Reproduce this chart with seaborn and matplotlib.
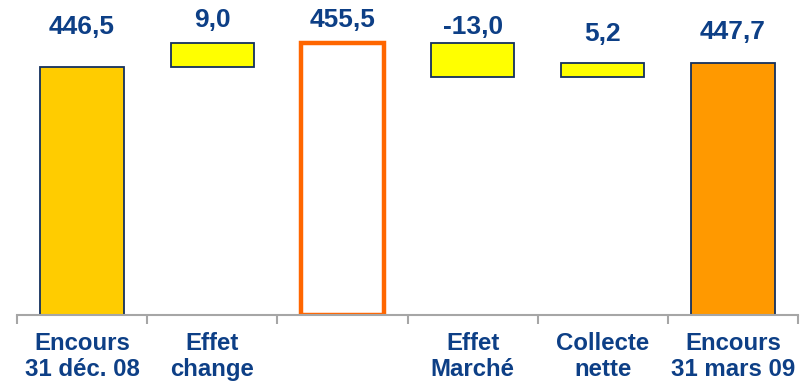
import matplotlib
matplotlib.use("Agg")
import matplotlib.pyplot as plt
import seaborn as sns
import numpy as np
import pandas as pd

# ---- data ----
categories = ["Encours\n31 déc. 08", "Effet\nchange", " ", "Effet\nMarché", "Collecte\nnette", "Encours\n31 mars 09"]
values = [446.5, 9.0, 455.5, -13.0, 5.2, 447.7]
kinds = ["total", "delta", "total", "delta", "delta", "total"]
value_labels = ["446,5", "9,0", "455,5", "-13,0", "5,2", "447,7"]

# ---- style ----
y_floor = 353.4
y_top = 471.5
face_colors = ["#FFCC00", "#FFFF00", "#FFFFFF", "#FFFF00", "#FFFF00", "#FF9900"]
edge_colors = ["#14305E", "#14305E", "#FF6600", "#14305E", "#14305E", "#14305E"]
edge_widths = [1.3, 1.3, 3.2, 1.3, 1.3, 1.3]
label_offsets_px = [40, 23, 23, 16, 29, 31]
text_color = "#0D3F86"

sns.set_theme(style="white")
plt.rcParams["font.family"] = ["Liberation Sans", "DejaVu Sans"]

# waterfall geometry from data
bottoms, heights, tops = [], [], []
running = 0.0
for v, k in zip(values, kinds):
    if k == "total":
        bottoms.append(y_floor)
        heights.append(v - y_floor)
        running = v
        tops.append(v)
    else:
        bottoms.append(running)
        heights.append(v)
        tops.append(max(running, running + v))
        running = running + v

df = pd.DataFrame({"cat": categories, "h": heights})

fig = plt.figure(figsize=(8.01, 3.84), dpi=100)
ax = fig.add_axes([17 / 801, 1 - 315 / 384, (798 - 17) / 801, 315 / 384])

sns.barplot(data=df, x="cat", y="h", order=categories, bottom=bottoms,
            width=0.64, ax=ax, errorbar=None, color="#FFCC00", saturation=1)

for p, fc, ec, lw in zip(ax.patches, face_colors, edge_colors, edge_widths):
    p.set_facecolor(fc)
    p.set_edgecolor(ec)
    p.set_linewidth(lw)
    if lw > 2:
        p.set_joinstyle("miter")

ax.set_xlim(-0.5, len(categories) - 0.5)
ax.set_ylim(y_floor, y_top)

for i, (t, lab, off) in enumerate(zip(tops, value_labels, label_offsets_px)):
    ax.annotate(lab, (i, t), xytext=(0, off * 0.72), textcoords="offset points",
                ha="center", va="center", fontsize=19, fontweight="bold",
                color=text_color, annotation_clip=False)

for s in ["top", "left", "right"]:
    ax.spines[s].set_visible(False)
ax.spines["bottom"].set_color("#A6A6A6")
ax.spines["bottom"].set_linewidth(1.5)
ax.set_yticks([])
ax.set_xlabel("")
ax.set_ylabel("")
ax.set_xticks(range(len(categories)))
ax.set_xticklabels(categories, fontsize=17.3, fontweight="bold", color=text_color, linespacing=1.2)
ax.tick_params(axis="x", which="major", length=0, pad=12)
ax.set_xticks(np.arange(-0.5, len(categories), 1.0), minor=True)
ax.tick_params(axis="x", which="minor", length=6.5, width=1.5, color="#A6A6A6", direction="out", bottom=True)

fig.savefig("out.png", dpi=100)
